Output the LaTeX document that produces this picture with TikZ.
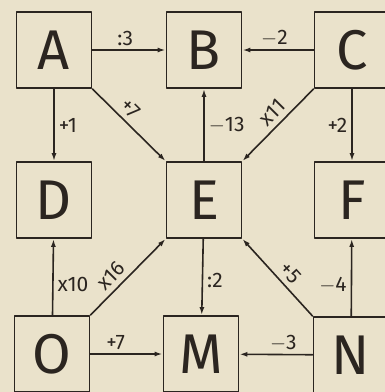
\documentclass[tikz,border=0pt]{standalone}
\usepackage{fontspec}
\setmainfont{Fira Sans}
\usetikzlibrary{arrows.meta}
\definecolor{PaperTone}{HTML}{EAE2CB}
\definecolor{InkDark}{HTML}{2B2520}
\begin{document}
\begin{tikzpicture}[x=1pt,y=-1pt, line cap=round, line join=round, >={Latex[length=8pt,width=5pt]}]
\tikzset{
  box/.style={draw=InkDark, line width=1.8pt, minimum width=75pt, minimum height=76pt,
              inner sep=0pt, font=\fontsize{56}{58}\selectfont, text=InkDark},
  link/.style={->, draw=InkDark, line width=1.6pt},
  tag/.style={font=\fontsize{21}{23}\selectfont, text=InkDark, inner sep=2pt}
}

% paper
\useasboundingbox (0,0) rectangle (385,392);
\clip (0,0) rectangle (385,392);
\fill[PaperTone] (0,0) rectangle (385,392);

% boxes
\node[box] (A) at (54,50) {A};
\node[box] (B) at (204,50) {B};
\node[box] (C) at (352,50) {C};
\node[box] (D) at (54,200) {D};
\node[box] (E) at (204,200) {E};
\node[box] (F) at (352,200) {F};
\node[box] (O) at (52,354) {O};
\node[box] (M) at (201,354) {M};
\node[box] (N) at (351,355) {N};

% top row
\draw[link] (A) -- node[tag, above=1pt, pos=0.45] {:3} (B);
\draw[link] (C) -- node[tag, above=1pt, pos=0.55] {$-$2} (B);

% into the middle row
\draw[link] (A) -- node[tag, right=2pt] {+1} (D);
\draw[link] (A.south east) -- node[tag, sloped, above=3pt, pos=0.4] {+7} (E.north west);
\draw[link] (E) -- node[tag, right=2pt] {$-$13} (B);
\draw[link] (C.south west) -- node[tag, sloped, above=3pt, pos=0.45] {x11} (E.north east);
\draw[link] (C) -- node[tag, left=2pt] {+2} (F);

% from the bottom row
\draw[link] (O) -- node[tag, right=2pt, pos=0.4] {x10} (D);
\draw[link] (O.north east) -- node[tag, sloped, above=3pt, pos=0.4] {x16} (E.south west);
\draw[link] (E) -- node[tag, right=2pt, pos=0.55] {:2} (M);
\draw[link] (N.north west) -- node[tag, sloped, above=3pt, pos=0.45] {+5} (E.south east);
\draw[link] (N) -- node[tag, left=2pt, pos=0.4] {$-$4} (F);

% bottom row
\draw[link] (O) -- node[tag, above=1pt, pos=0.35] {+7} (M);
\draw[link] (N) -- node[tag, above=1pt, pos=0.4] {$-$3} (M);

\end{tikzpicture}
\end{document}
